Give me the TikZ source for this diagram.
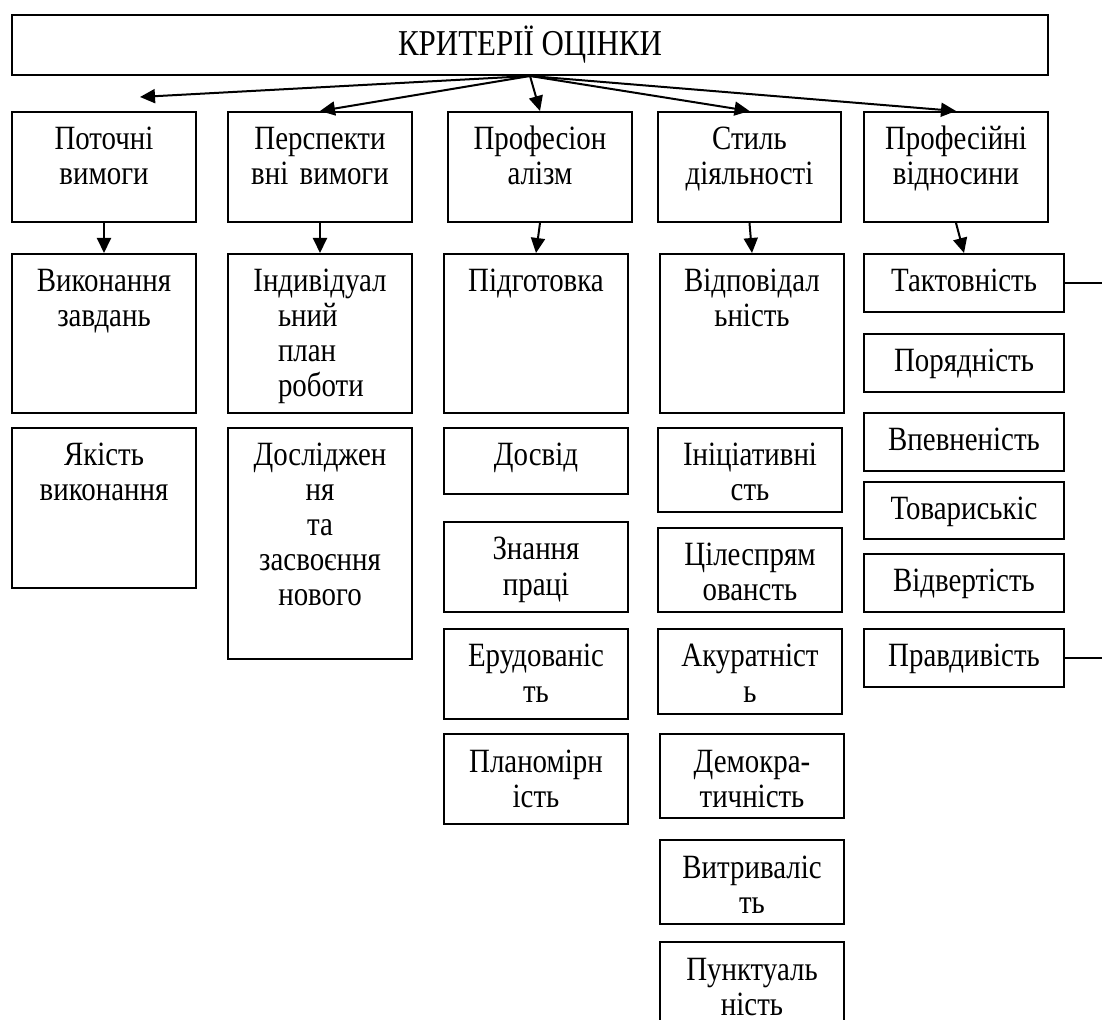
\documentclass[tikz,border=0pt]{standalone}
\usepackage{fontspec}
\setmainfont{Liberation Serif}[FakeStretch=0.85]
\usetikzlibrary{arrows.meta}

\tikzset{
  crit/.style={draw, line width=1pt, anchor=north west, align=center,
    inner xsep=0pt, inner ysep=0pt, text height=19pt,
    font=\fontsize{17}{17.5}\selectfont},
  head/.style={crit, text width=92pt, text depth=36pt},
  arr/.style={line width=1pt, -{Triangle[length=7.5pt,width=7pt]}}
}

\begin{document}
\begin{tikzpicture}[x=0.5pt, y=-0.5pt]
  \useasboundingbox (0,0) rectangle (1102,1020);

  \node[draw, line width=1pt, anchor=north west, minimum width=518pt,
    minimum height=30pt, inner sep=0pt, font=\fontsize{18.2}{20}\selectfont]
    (krit) at (11,14) {КРИТЕРІЇ ОЦІНКИ};

  % second row
  \node[head] (potochni) at (11,111) {Поточні\\вимоги};
  \node[head] (perspekt) at (227,111) {Перспекти\\вні вимоги};
  \node[head] (profes) at (447,111) {Професіон\\алізм};
  \node[head, text width=91.5pt] (styl) at (657,111) {Стиль\\діяльності};
  \node[head] (vidnos) at (863,111) {Професійні\\відносини};

  % column 1
  \node[crit, text width=92pt, text depth=60.5pt] (vykon) at (11,253) {Виконання\\завдань};
  \node[crit, text width=92pt, text depth=61pt] (yakist) at (11,427) {Якість\\виконання};

  % column 2
  \node[crit, text width=92pt, text depth=60.5pt] (indyv) at (227,253)
    {Індивідуал\\\makebox[42pt][l]{ьний}\\\makebox[42pt][l]{план}\\\makebox[42pt][l]{роботи}};
  \node[crit, text width=92pt, text depth=96.5pt] (doslid) at (227,427)
    {Досліджен\\ня\\та\\засвоєння\\нового};

  % column 3
  \node[crit, text width=92pt, text depth=60.5pt] (pidgot) at (443,253) {Підготовка};
  \node[crit, text width=92pt, text depth=14pt] (dosvid) at (443,427) {Досвід};
  \node[crit, text width=92pt, text depth=26pt] (znannia) at (443,521) {Знання\\праці};
  \node[crit, text width=92pt, text depth=26pt] (erud) at (443,628) {Ерудованіс\\ть};
  \node[crit, text width=92pt, text depth=26pt] (planom) at (443,733) {Планомірн\\ість};

  % column 4
  \node[crit, text width=92pt, text depth=60.5pt] (vidpov) at (659,253) {Відповідал\\ьність};
  \node[crit, text width=92pt, text depth=23pt] (inits) at (657,427) {Ініціативні\\сть};
  \node[crit, text width=92pt, text depth=23pt] (tsilesp) at (657,527) {Цілеспрям\\овансть};
  \node[crit, text width=92pt, text depth=23.5pt] (akur) at (657,628) {Акуратніст\\ь};
  \node[crit, text width=92pt, text depth=23pt] (demokr) at (659,733) {Демокра-\\тичність};
  \node[crit, text width=92pt, text depth=23pt] (vytryv) at (659,839) {Витриваліс\\ть};
  \node[crit, text width=92pt, text depth=23pt] (punkt) at (659,941) {Пунктуаль\\ність};

  % column 5
  \node[crit, text width=100pt, text depth=10pt] (takt) at (863,253) {Тактовність};
  \node[crit, text width=100pt, text depth=10pt] (poriad) at (863,333) {Порядність};
  \node[crit, text width=100pt, text depth=10pt] (vpevn) at (863,412) {Впевненість};
  \node[crit, text width=100pt, text depth=9.5pt] (tovar) at (863,481) {Товариськіс};
  \node[crit, text width=100pt, text depth=10pt] (vidvert) at (863,553) {Відвертість};
  \node[crit, text width=100pt, text depth=10pt] (pravd) at (863,628) {Правдивість};

  \coordinate (lft) at (140,97);
  \coordinate (rgt) at (1102,0);

  \draw[arr] (krit.south) -- (lft);
  \foreach \n in {perspekt, profes, styl, vidnos}
    \draw[arr] (krit.south) -- (\n.north);
  \foreach \a/\b in {potochni/vykon, perspekt/indyv, profes/pidgot, styl/vidpov, vidnos/takt}
    \draw[arr] (\a.south) -- (\b.north);

  \draw[line width=1pt] (takt.east) -- (takt.east -| rgt);
  \draw[line width=1pt] (pravd.east) -- (pravd.east -| rgt);
\end{tikzpicture}
\end{document}
